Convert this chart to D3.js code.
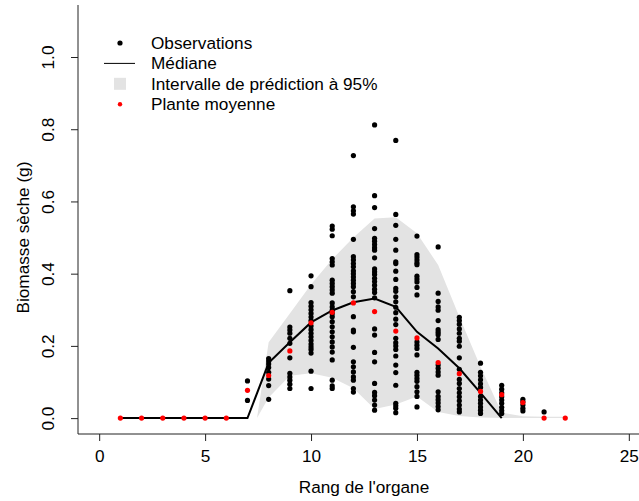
<!DOCTYPE html>
<meta charset="utf-8">
<style>
body { margin: 0; background: #fff; }
text { font-family: "Liberation Sans", Arial, Helvetica, sans-serif; font-size: 17.2px; fill: #000; }
.axis path { display: none; }
.axis line { stroke: #222; }
.frame { stroke: #222; fill: none; }
.median { stroke: #000; stroke-width: 2; fill: none; }
.band { fill: #e3e3e3; }
</style>
<body>
<script src="https://cdn.jsdelivr.net/npm/d3@7"></script>
<script>

// ranks (x) of the average plant and of the median line
var ranks = [1, 2, 3, 4, 5, 6, 7, 8, 9, 10, 11, 12, 13, 14, 15, 16, 17, 18, 19, 20, 21, 22];
var meanPlant = [0, 0, 0, 0, 0, 0, 0.077, 0.118, 0.186, 0.264, 0.293, 0.319, 0.295, 0.241,
                 0.222, 0.154, 0.123, 0.074, 0.065, 0.043, 0, 0];

var medianRanks = [1, 2, 3, 4, 5, 6, 7, 8, 9, 10, 11, 12, 13, 14, 15, 16, 17, 18, 19];
var medianValues = [0, 0, 0, 0, 0, 0, 0, 0.153, 0.210, 0.265, 0.298, 0.321, 0.331, 0.308,
                    0.239, 0.193, 0.138, 0.070, 0];

// 95% prediction interval
var bandRanks = [7.45, 8, 9, 10, 11, 12, 13, 14, 15, 16, 17, 18, 19, 20, 21, 22];
var bandUpper = [0, 0.21, 0.29, 0.37, 0.44, 0.50, 0.553, 0.556, 0.512, 0.424, 0.281, 0.142,
                 0.015, 0.005, 0.004, 0.004];
var bandLower = [0, 0.057, 0.117, 0.124, 0.112, 0.083, 0.025, 0.038, 0.060, 0.017, 0.006,
                 0.002, 0, 0, 0, 0];

// observations, one list per rank
var obsRanks = [7, 8, 9, 10, 11, 12, 13, 14, 15, 16, 17, 18, 19, 20, 21];
var obsValues = [
  [0.103, 0.049],
  [0.165, 0.158, 0.150, 0.140, 0.127, 0.108, 0.090, 0.052],
  [0.353, 0.252, 0.244, 0.235, 0.221, 0.207, 0.167, 0.124, 0.114, 0.105, 0.094, 0.082],
  [0.394, 0.364, 0.32, 0.31, 0.30, 0.29, 0.28, 0.27, 0.255, 0.245, 0.235, 0.225, 0.215,
   0.205, 0.197, 0.19, 0.18, 0.13, 0.082],
  [0.532, 0.523, 0.505, 0.442, 0.433, 0.424, 0.382, 0.373, 0.364, 0.355, 0.346, 0.319,
   0.308, 0.299, 0.290, 0.281, 0.267, 0.253, 0.239, 0.225, 0.211, 0.197, 0.183, 0.161,
   0.105, 0.089, 0.082],
  [0.727, 0.585, 0.574, 0.565, 0.495, 0.447, 0.438, 0.428, 0.419, 0.408, 0.400, 0.391,
   0.382, 0.373, 0.364, 0.350, 0.336, 0.281, 0.244, 0.239, 0.196, 0.156, 0.142, 0.128,
   0.114, 0.105, 0.082, 0.072],
  [0.812, 0.616, 0.583, 0.525, 0.498, 0.490, 0.481, 0.472, 0.465, 0.444, 0.413, 0.405,
   0.398, 0.387, 0.378, 0.368, 0.357, 0.348, 0.333, 0.247, 0.230, 0.182, 0.156, 0.096,
   0.071, 0.062, 0.050, 0.036, 0.022],
  [0.769, 0.564, 0.534, 0.495, 0.465, 0.433, 0.428, 0.407, 0.384, 0.359, 0.351, 0.336,
   0.322, 0.307, 0.292, 0.274, 0.259, 0.221, 0.209, 0.200, 0.190, 0.172, 0.147, 0.126,
   0.091, 0.041, 0.034, 0.027, 0.015],
  [0.504, 0.453, 0.446, 0.438, 0.430, 0.425, 0.393, 0.385, 0.377, 0.362, 0.341, 0.211,
   0.202, 0.193, 0.175, 0.127, 0.119, 0.110, 0.102, 0.087, 0.073, 0.060, 0.031],
  [0.474, 0.346, 0.323, 0.308, 0.299, 0.270, 0.245, 0.238, 0.231, 0.218, 0.147, 0.138,
   0.128, 0.119, 0.073, 0.060, 0.051, 0.042, 0.032, 0.023],
  [0.279, 0.270, 0.260, 0.247, 0.235, 0.221, 0.213, 0.199, 0.167, 0.135, 0.107, 0.096,
   0.082, 0.070, 0.059, 0.048, 0.036, 0.025, 0.017],
  [0.152, 0.127, 0.117, 0.106, 0.095, 0.085, 0.060, 0.050, 0.041, 0.031, 0.022, 0.013],
  [0.091, 0.080, 0.070, 0.059, 0.050, 0.041, 0.030, 0.021, 0.013],
  [0.052, 0.045, 0.036, 0.027, 0.020],
  [0.017]
];

var xTicks = [0, 5, 10, 15, 20, 25];
var yTicks = [0, 0.2, 0.4, 0.6, 0.8, 1.0];
var legendLabels = ["Observations", "Médiane", "Intervalle de prédiction à 95%", "Plante moyenne"];

var width = 639, height = 501;

var x = d3.scaleLinear().domain([-1, 26]).range([78, 650]);
var y = d3.scaleLinear().domain([-0.044, 1.144]).range([434, 5]);

var svg = d3.select("body").append("svg")
    .attr("width", width)
    .attr("height", height);

// prediction band
var band = bandRanks.map(function(r, i) { return {r: r, lo: bandLower[i], hi: bandUpper[i]}; });
svg.append("path")
    .attr("class", "band")
    .attr("d", d3.area()
        .x(function(d) { return x(d.r); })
        .y0(function(d) { return y(d.lo); })
        .y1(function(d) { return y(d.hi); })(band));

// observations
var obs = [];
obsRanks.forEach(function(r, i) {
  obsValues[i].forEach(function(v) { obs.push({r: r, v: v}); });
});
svg.append("g").selectAll("circle")
    .data(obs)
  .enter().append("circle")
    .attr("cx", function(d) { return x(d.r); })
    .attr("cy", function(d) { return y(d.v); })
    .attr("r", 2.6)
    .attr("fill", "#000");

// median
svg.append("path")
    .attr("class", "median")
    .attr("d", d3.line()
        .x(function(d, i) { return x(medianRanks[i]); })
        .y(function(d) { return y(d); })(medianValues));

// average plant
svg.append("g").selectAll("circle")
    .data(meanPlant)
  .enter().append("circle")
    .attr("cx", function(d, i) { return x(ranks[i]); })
    .attr("cy", function(d) { return y(d); })
    .attr("r", 2.6)
    .attr("fill", "#ff0000");

// L shaped box
svg.append("path")
    .attr("class", "frame")
    .attr("d", "M" + x.range()[0] + "," + y.range()[1] + "V" + y.range()[0] + "H" + x.range()[1]);

// axes
var xAxis = svg.append("g")
    .attr("class", "axis")
    .attr("transform", "translate(0," + y.range()[0] + ")")
    .call(d3.axisBottom(x).tickValues(xTicks).tickSize(7).tickPadding(9));
xAxis.attr("font-size", null).attr("font-family", null);

var yAxis = svg.append("g")
    .attr("class", "axis")
    .attr("transform", "translate(" + x.range()[0] + ",0)")
    .call(d3.axisLeft(y).tickValues(yTicks).tickFormat(d3.format(".1f")).tickSize(7));
yAxis.attr("font-size", null).attr("font-family", null);
yAxis.selectAll("text")
    .attr("transform", "rotate(-90)")
    .attr("x", 0)
    .attr("y", -30)
    .attr("dy", "0.35em")
    .attr("text-anchor", "middle");

svg.append("text")
    .attr("x", (x(0) + x(25)) / 2)
    .attr("y", 493)
    .attr("text-anchor", "middle")
    .text("Rang de l'organe");

svg.append("text")
    .attr("transform", "translate(23," + y(0.5) + ") rotate(-90)")
    .attr("dy", "0.35em")
    .attr("text-anchor", "middle")
    .text("Biomasse sèche (g)");

// legend
var lg = svg.append("g");
var rowY = function(i) { return 43 + i * 20.4; };
lg.append("circle").attr("cx", 120).attr("cy", rowY(0)).attr("r", 2.6).attr("fill", "#000");
lg.append("line").attr("x1", 104).attr("x2", 135).attr("y1", rowY(1)).attr("y2", rowY(1))
    .attr("stroke", "#000").attr("stroke-width", 1);
lg.append("rect").attr("x", 114).attr("y", rowY(2) - 6).attr("width", 12).attr("height", 12)
    .attr("fill", "#e3e3e3");
lg.append("circle").attr("cx", 120).attr("cy", rowY(3)).attr("r", 2.2).attr("fill", "#ff0000");
lg.selectAll("text.lab")
    .data(legendLabels)
  .enter().append("text")
    .attr("class", "lab")
    .attr("x", 151)
    .attr("y", function(d, i) { return rowY(i); })
    .attr("dy", "0.35em")
    .text(function(d) { return d; });

</script>
</body>
